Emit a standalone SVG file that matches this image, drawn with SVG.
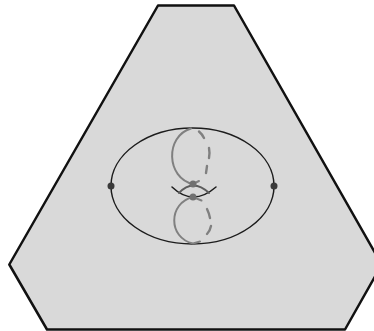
<svg xmlns="http://www.w3.org/2000/svg" width="374" height="331" viewBox="0 0 374 331">
<style>
.k{fill:none;stroke:#1c1c1c;stroke-width:1.500;stroke-linecap:round}
.g{fill:none;stroke:#808080;stroke-width:2;stroke-linecap:round}
.d{stroke-width:2.400}
.dot{fill:#707070}
</style>
<rect width="374" height="331" fill="#fff"/>
<g id="region"><path d="M158 5.500H234L381.700 264.600L345 329.500H47L9.300 264.500Z" fill="#d9d9d9" stroke="#111" stroke-width="2.500" stroke-linejoin="round"/></g>
<g id="connectors">
<ellipse class="k" cx="192.500" cy="186" rx="81.500" ry="58"/>
<path class="k" d="M172 187Q193 207 216 187"/>
<path class="g" style="stroke:#5c5c5c" d="M179 193Q193 178 209 193"/>
<path class="g" d="M191 128.500C165 136 166 178 193 184L199 181"/>
<path class="g d" d="M199 131.500Q202 134 204 138M209 148Q210 153 209 158M207 166Q206.500 170 206 173"/>
<path class="g" d="M201.500 200.500L193 197C168 203 168 238 193 243.500L200 241.500"/>
<path class="g d" d="M207 209Q209 213 210 218M211 226Q210 231 207 234"/>
</g>
<g id="node-left"><circle cx="111" cy="186" r="3.500" fill="#3a3a3a"/></g>
<g id="node-right"><circle cx="274" cy="186" r="3.500" fill="#3a3a3a"/></g>
<g id="node-top"><circle class="dot" cx="193" cy="184" r="3.500"/></g>
<g id="node-bottom"><circle class="dot" cx="193" cy="197" r="3.500"/></g>
</svg>
